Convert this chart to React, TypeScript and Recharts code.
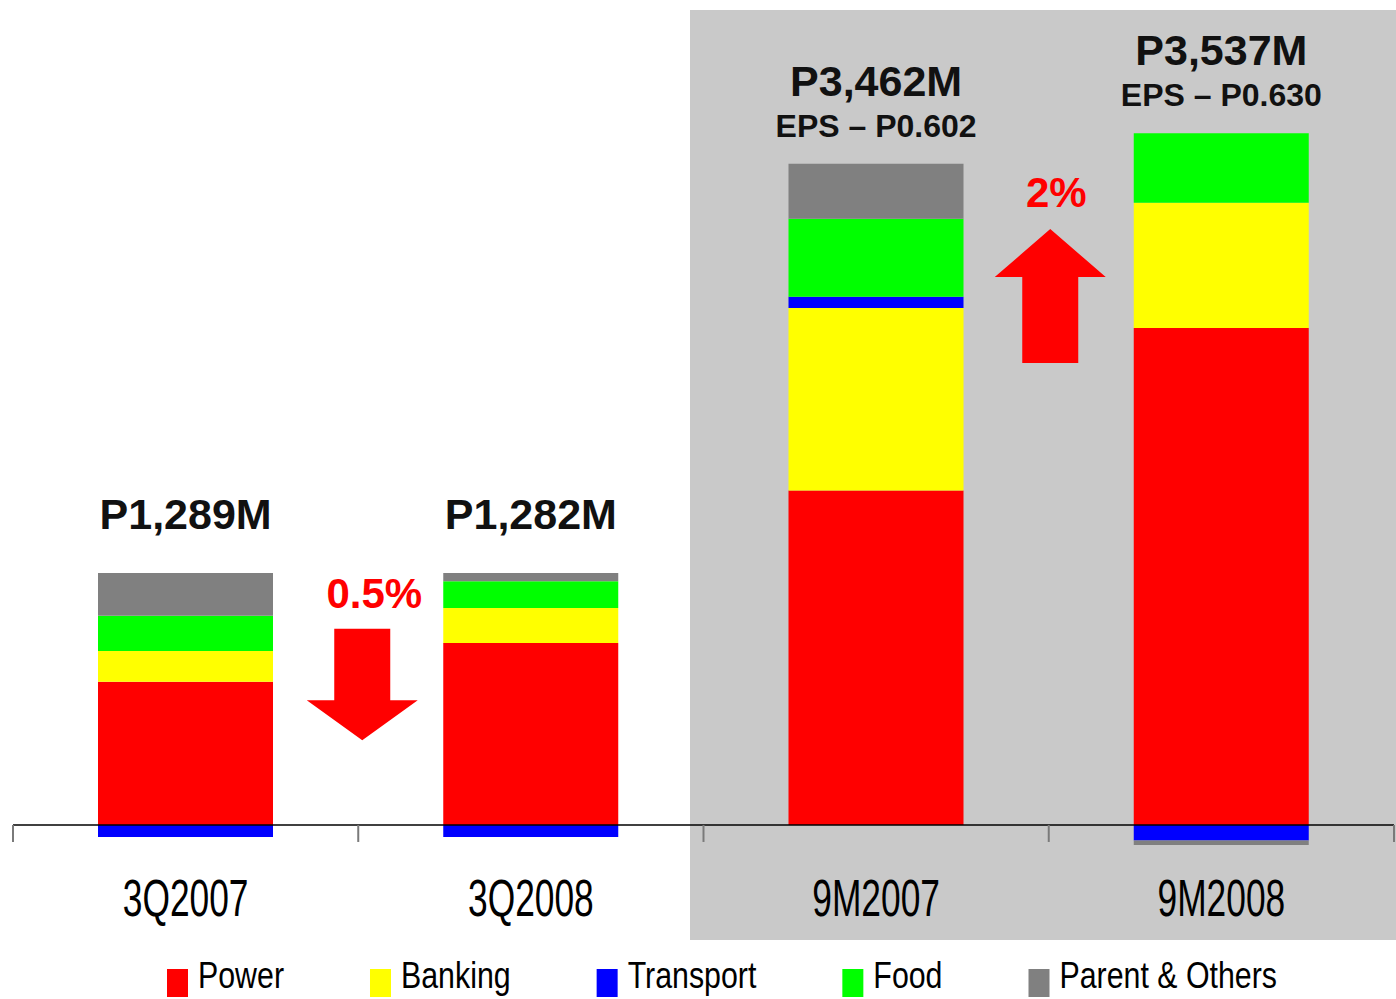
import React from "react";
import {
  Bar,
  ComposedChart,
  Legend,
  Line,
  ReferenceDot,
  ReferenceLine,
  XAxis,
  YAxis,
} from "recharts";

// net income by segment, P millions
const CATEGORIES = ["3Q2007", "3Q2008", "9M2007", "9M2008"];
const POWER = [750, 953, 1751, 2603];
const BANKING = [161, 183, 957, 656];
const TRANSPORT = [-63, -63, 58, -82];
const FOOD = [185, 141, 409, 363];
const PARENT = [224, 42, 288, -23];

const NET_INCOME = ["P1,289M", "P1,282M", "P3,462M", "P3,537M"];
const EPS = ["", "", "EPS – P0.602", "EPS – P0.630"];

// change arrows sit between two periods
const CHANGE_AFTER = ["3Q2007", "9M2007"];
const CHANGE_LEVEL = [1027, 3121];
const CHANGE_DIR = ["down", "up"];
const CHANGE_LABEL = ["0.5%", "2%"];

const SERIES = [
  { key: "power", name: "Power", color: "#FF0000", values: POWER },
  { key: "banking", name: "Banking", color: "#FFFF00", values: BANKING },
  { key: "transport", name: "Transport", color: "#0000FF", values: TRANSPORT },
  { key: "food", name: "Food", color: "#00FF00", values: FOOD },
  { key: "parent", name: "Parent & Others", color: "#808080", values: PARENT },
];

const data = CATEGORIES.map((period, i) => {
  const row: any = { period };
  let top = 0;
  SERIES.forEach((s) => {
    row[s.key] = s.values[i];
    if (s.values[i] > 0) top += s.values[i];
  });
  row.top = top;
  return row;
});

const W = 1396;
const H = 999;
const MARGIN = { top: 120, right: 2, left: 13, bottom: 0 };
const AXIS_H = 39;
const LEGEND_H = 60;
const Y_MIN = -393;
const Y_MAX = 3692;
const PLOT_W = W - MARGIN.left - MARGIN.right;
const PLOT_H = H - MARGIN.top - MARGIN.bottom - AXIS_H - LEGEND_H;
const BAND = PLOT_W / CATEGORIES.length;
const ZERO_Y = MARGIN.top + (PLOT_H * Y_MAX) / (Y_MAX - Y_MIN);

const FONT = "'Liberation Sans', Arial, sans-serif";

let ctx: CanvasRenderingContext2D | null = null;
const textWidth = (t: string, font: string) => {
  if (!ctx) ctx = document.createElement("canvas").getContext("2d");
  if (!ctx) return t.length * 18;
  ctx.font = font;
  return ctx.measureText(t).width;
};

const PeriodTick = (props: any) => {
  const { x, payload, index } = props;
  return (
    <g>
      <line x1={x - BAND / 2} x2={x - BAND / 2} y1={ZERO_Y} y2={ZERO_Y + 17} stroke="#7a7a7a" strokeWidth={2} />
      {index === CATEGORIES.length - 1 && (
        <line x1={x + BAND / 2} x2={x + BAND / 2} y1={ZERO_Y} y2={ZERO_Y + 17} stroke="#7a7a7a" strokeWidth={2} />
      )}
      <text
        transform={`translate(${x} ${ZERO_Y + 91}) scale(0.68 1)`}
        textAnchor="middle"
        fontFamily={FONT}
        fontSize={52}
        fill="#000"
      >
        {payload.value}
      </text>
    </g>
  );
};

const Headline = (props: any) => {
  const { cx, cy, index } = props;
  if (cx == null || cy == null) return null;
  const eps = EPS[index];
  return (
    <g key={`hl-${index}`} fontFamily={FONT} fontWeight="bold" fill="#111" textAnchor="middle">
      <text x={cx} y={eps ? cy - 68 : cy - 44} fontSize={43}>
        {NET_INCOME[index]}
      </text>
      {eps && (
        <text x={cx} y={cy - 27} fontSize={32}>
          {eps}
        </text>
      )}
    </g>
  );
};

const changeArrow = (dir: string, label: string) => (p: any) => {
  const cx = p.cx + BAND / 2 + (dir === "down" ? 4 : 1.5);
  const cy = p.cy;
  const pts =
    dir === "down"
      ? [
          [cx - 28, cy], [cx + 28, cy], [cx + 28, cy + 71.5], [cx + 55.5, cy + 71.5],
          [cx, cy + 111.5], [cx - 55.5, cy + 71.5], [cx - 28, cy + 71.5],
        ]
      : [
          [cx, cy], [cx + 55.5, cy + 48], [cx + 28, cy + 48], [cx + 28, cy + 134],
          [cx - 28, cy + 134], [cx - 28, cy + 48], [cx - 55.5, cy + 48],
        ];
  return (
    <g>
      <polygon points={pts.map((q) => q.join(",")).join(" ")} fill="#FF0000" />
      <text
        x={cx + (dir === "down" ? 12 : 6)}
        y={cy - (dir === "down" ? 21 : 22)}
        textAnchor="middle"
        fontFamily={FONT}
        fontWeight="bold"
        fontSize={42}
        fill="#FF0000"
      >
        {label}
      </text>
    </g>
  );
};

const SegmentLegend = () => {
  const font = `37px ${FONT}`;
  let x = 167;
  const items = SERIES.map((s) => {
    const w = textWidth(s.name, font) * 0.82;
    const item = (
      <g key={s.key}>
        <rect x={x} y={30} width={21} height={28} fill={s.color} />
        <text transform={`translate(${x + 31} 49) scale(0.82 1)`} fontFamily={FONT} fontSize={37} fill="#000">
          {s.name}
        </text>
      </g>
    );
    x += 31 + w + 86;
    return item;
  });
  return (
    <svg width={W} height={LEGEND_H} style={{ display: "block" }}>
      {items}
    </svg>
  );
};

export default function App() {
  return (
    <div style={{ position: "absolute", left: 0, top: 0, width: W, height: H, background: "#fff" }}>
      <div style={{ position: "absolute", left: 690, top: 10, width: 706, height: 930, background: "#C9C9C9" }} />
      <ComposedChart width={W} height={H} data={data} margin={MARGIN} stackOffset="sign">
        <XAxis
          dataKey="period"
          axisLine={false}
          tickLine={false}
          height={AXIS_H}
          interval={0}
          tick={<PeriodTick />}
        />
        <YAxis hide domain={[Y_MIN, Y_MAX]} />
        {SERIES.map((s) => (
          <Bar
            key={s.key}
            dataKey={s.key}
            name={s.name}
            stackId="segments"
            fill={s.color}
            barSize={175}
            isAnimationActive={false}
          />
        ))}
        <ReferenceLine y={0} stroke="#000" strokeWidth={1.5} />
        <Line
          dataKey="top"
          stroke="none"
          legendType="none"
          dot={Headline}
          activeDot={false}
          isAnimationActive={false}
        />
        {CHANGE_AFTER.map((c, i) => (
          <ReferenceDot
            key={c}
            x={c}
            y={CHANGE_LEVEL[i]}
            r={0}
            shape={changeArrow(CHANGE_DIR[i], CHANGE_LABEL[i])}
          />
        ))}
        <Legend
          verticalAlign="bottom"
          content={<SegmentLegend />}
          wrapperStyle={{ left: 0, bottom: 0, width: W, height: LEGEND_H }}
        />
      </ComposedChart>
    </div>
  );
}
